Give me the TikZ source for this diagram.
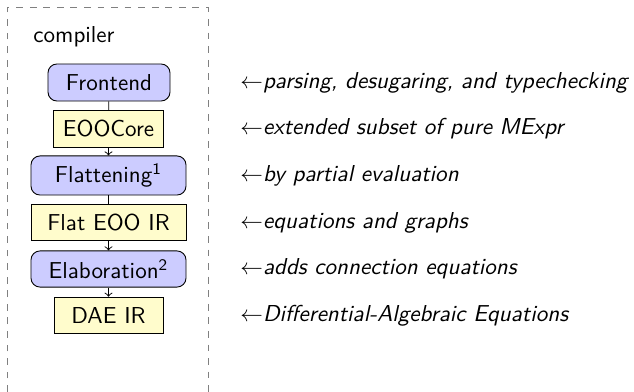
\documentclass[tikz,border=0pt]{standalone}
\usetikzlibrary{arrows}
\begin{document}
\begin{tikzpicture}[x=0.4425pt,y=-0.4425pt,font=\sffamily\fontsize{10.2}{12}\selectfont,
  stage/.style={draw=black,fill=blue!20,rounded corners=4pt,inner sep=0pt,minimum height=16.4pt},
  repr/.style={draw=black,fill=yellow!20,inner sep=0pt,minimum height=16.2pt},
  note/.style={anchor=west,inner sep=0pt},
  conn/.style={draw=black},
  arr/.style={draw=black,->}]
\useasboundingbox (0,0) rectangle (634,392);
\draw[gray,dashed] (7.5,392) -- (7.5,7.5) -- (208,7.5) -- (208,392);
\node[anchor=west,inner sep=0pt] (title) at (33,37) {compiler};
\node[stage,minimum width=54pt] (fe) at (109,82.5) {Frontend};
\node[repr,minimum width=48.7pt] (core) at (108.5,129) {EOOCore};
\node[stage,minimum width=68.6pt,minimum height=17.3pt] (flat) at (108.5,175.5) {Flattening\textsuperscript{1}};
\node[repr,minimum width=68.6pt] (fir) at (108.5,222.5) {Flat EOO IR};
\node[stage,minimum width=68.6pt,minimum height=16pt] (elab) at (108.5,269) {Elaboration\textsuperscript{2}};
\node[repr,minimum width=48.2pt] (dae) at (108.5,315.5) {DAE IR};
\draw[conn] (fe) -- (core);
\draw[arr] (core) -- (flat);
\draw[conn] (flat) -- (fir);
\draw[arr] (fir) -- (elab);
\draw[arr] (elab) -- (dae);
\node[note] (n1) at (240,82.5) {$\leftarrow$\textit{parsing, desugaring, and typechecking}};
\node[note] (n2) at (240,129) {$\leftarrow$\textit{extended subset of pure MExpr}};
\node[note] (n3) at (240,175.5) {$\leftarrow$\textit{by partial evaluation}};
\node[note] (n4) at (240,222.5) {$\leftarrow$\textit{equations and graphs}};
\node[note] (n5) at (240,269) {$\leftarrow$\textit{adds connection equations}};
\node[note] (n6) at (240,315.5) {$\leftarrow$\textit{Differential-Algebraic Equations}};
\end{tikzpicture}
\end{document}
